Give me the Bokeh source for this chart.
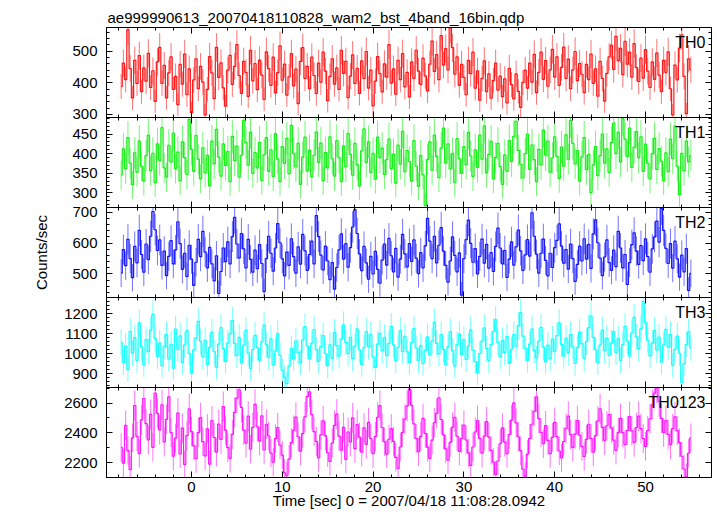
import numpy as np
from bokeh.plotting import figure
from bokeh.models import (Range1d, LinearAxis, SingleIntervalTicker, Label,
                          CustomLabelingPolicy)
from bokeh.layouts import column
from bokeh.embed import file_html
from bokeh.resources import INLINE

FONT = "Liberation Sans"

title_text = "ae999990613_20070418110828_wam2_bst_4band_16bin.qdp"
x_label = "Time [sec] 0 = 2007/04/18 11:08:28.0942"
y_label = "Counts/sec"
panel_names = ["TH0", "TH1", "TH2", "TH3", "TH0123"]

bin_size = 0.25          # seconds per bin
t_first = -7.75          # centre of first bin

th0 = [
    388, 462, 410, 568, 445, 352, 471, 398, 486, 372, 447, 405,
    493, 385, 438, 341, 466, 512, 398, 455, 352, 431, 482, 379,
    420, 331, 458, 396, 491, 362, 444, 305, 409, 476, 381, 452,
    402, 298, 379, 483, 431, 350, 512, 417, 463, 384, 326, 440,
    487, 395, 452, 521, 423, 366, 468, 433, 357, 503, 406, 461,
    378, 472, 424, 347, 498, 445, 392, 481, 368, 432, 517, 408,
    459, 361, 419, 492, 390, 443, 334, 468, 511, 414, 452, 381,
    481, 423, 366, 462, 402, 497, 437, 343, 420, 476, 396, 447,
    379, 503, 430, 468, 353, 421, 488, 398, 446, 366, 469, 414,
    499, 383, 440, 327, 405, 483, 429, 371, 460, 418, 521, 399,
    444, 364, 471, 410, 492, 387, 433, 355, 466, 414, 503, 437,
    395, 478, 422, 374, 459, 532, 436, 489, 410, 549, 456, 508,
    441, 574, 511, 427, 482, 392, 458, 417, 362, 471, 429, 497,
    383, 438, 345, 414, 469, 372, 428, 351, 407, 462, 377, 421,
    356, 412, 336, 446, 394, 349, 428, 373, 322, 401, 440, 383,
    462, 402, 490, 369, 433, 497, 411, 470, 389, 441, 506, 418,
    482, 392, 449, 513, 414, 475, 381, 441, 499, 407, 461, 427,
    369, 458, 410, 491, 398, 444, 358, 468, 414, 342, 430, 482,
    519, 442, 547, 470, 509, 426, 531, 459, 497, 418, 524, 448,
    404, 478, 415, 505, 437, 385, 466, 411, 494, 424, 372, 471,
    433, 498, 381, 298, 456, 409, 510, 552, 420, 302, 476, 441,
]

th1 = [
    345, 412, 362, 441, 376, 321, 402, 353, 432, 368, 330, 395,
    447, 357, 401, 326, 425, 383, 466, 364, 340, 421, 379, 452,
    362, 404, 331, 430, 390, 347, 487, 411, 355, 446, 386, 336,
    415, 351, 396, 318, 432, 374, 462, 391, 343, 425, 370, 405,
    329, 444, 382, 419, 340, 396, 485, 428, 371, 455, 350, 403,
    364, 429, 332, 397, 441, 355, 410, 342, 451, 386, 329, 418,
    375, 439, 349, 472, 401, 366, 426, 322, 391, 442, 356, 409,
    341, 396, 455, 378, 427, 331, 403, 364, 443, 387, 343, 433,
    390, 329, 420, 366, 451, 398, 345, 426, 372, 318, 407, 463,
    378, 430, 352, 401, 335, 442, 390, 414, 347, 385, 437, 362,
    399, 325, 422, 373, 457, 354, 408, 380, 330, 433, 368, 317,
    395, 346, 268, 385, 430, 358, 447, 393, 339, 414, 465, 376,
    425, 361, 401, 326, 438, 387, 350, 418, 372, 454, 394, 342,
    410, 365, 447, 386, 471, 351, 398, 431, 336, 390, 426, 367,
    322, 397, 355, 433, 380, 444, 482, 408, 373, 338, 400, 450,
    360, 422, 385, 329, 411, 372, 460, 396, 432, 353, 389, 443,
    393, 337, 417, 368, 448, 386, 485, 426, 374, 408, 330, 391,
    441, 359, 398, 301, 371, 418, 344, 395, 450, 376, 412, 352,
    428, 478, 400, 455, 379, 489, 437, 393, 465, 365, 416, 456,
    390, 443, 355, 424, 376, 336, 400, 439, 360, 413, 381, 331,
    402, 354, 437, 387, 470, 368, 296, 401, 356, 432, 379, 395,
]

th2 = [
    503, 579, 527, 612, 550, 488, 589, 536, 641, 563, 506, 597,
    546, 622, 702, 643, 576, 610, 528, 574, 495, 557, 608, 533,
    578, 669, 598, 515, 567, 492, 593, 548, 463, 538, 612, 556,
    638, 571, 520, 586, 533, 478, 559, 437, 508, 584, 540, 604,
    533, 621, 683, 597, 552, 631, 581, 520, 612, 547, 506, 577,
    517, 595, 534, 443, 550, 622, 567, 509, 584, 663, 601, 549,
    494, 571, 528, 614, 556, 503, 588, 532, 628, 575, 512, 563,
    606, 533, 689, 621, 561, 513, 590, 542, 482, 537, 451, 521,
    578, 630, 548, 598, 522, 585, 652, 708, 631, 565, 511, 589,
    536, 483, 557, 500, 573, 515, 470, 545, 597, 529, 615, 559,
    507, 583, 490, 548, 628, 565, 523, 598, 541, 610, 551, 501,
    569, 520, 591, 680, 606, 550, 622, 536, 593, 650, 574, 528,
    474, 542, 620, 560, 507, 568, 432, 550, 611, 674, 599, 538,
    582, 500, 557, 613, 535, 596, 519, 569, 508, 589, 648, 584,
    533, 576, 489, 548, 604, 529, 588, 642, 575, 512, 562, 611,
    558, 698, 622, 564, 503, 567, 613, 544, 494, 567, 521, 585,
    609, 662, 590, 535, 579, 516, 597, 550, 476, 531, 590, 542,
    614, 548, 596, 518, 630, 675, 601, 551, 495, 555, 610, 537,
    512, 577, 524, 638, 584, 520, 563, 466, 537, 595, 633, 574,
    531, 592, 543, 614, 556, 506, 581, 620, 671, 603, 712, 641,
    583, 534, 598, 519, 606, 549, 490, 561, 507, 582, 447, 502,
]

th3 = [
    1058, 957, 1039, 921, 1112, 1004, 1081, 968, 1155, 1035, 947, 1071,
    1012, 1118, 1198, 1076, 988, 1054, 941, 1037, 1096, 975, 1048, 929,
    1124, 1022, 1090, 958, 1045, 1117, 1003, 902, 1020, 1079, 1163, 1062,
    985, 1068, 948, 1033, 1109, 1011, 934, 1049, 1131, 1026, 961, 1055,
    1101, 1167, 1052, 991, 1083, 955, 1044, 1118, 1005, 928, 1022, 1093,
    1032, 968, 1061, 1144, 1047, 982, 1075, 944, 1015, 1101, 993, 917,
    884, 852, 939, 1027, 976, 1064, 1008, 957, 1070, 1136, 1040, 975,
    1054, 1122, 1021, 962, 1036, 1092, 1002, 941, 1045, 978, 1107, 1041,
    989, 1074, 1145, 1058, 1001, 1083, 976, 1039, 1125, 1020, 947, 1031,
    1112, 1036, 1096, 985, 932, 1049, 1103, 1015, 1081, 991, 1052, 1138,
    1045, 966, 1033, 1117, 1013, 1088, 1010, 958, 1057, 1126, 1030, 968,
    1041, 952, 1018, 1085, 995, 1064, 1158, 1053, 1001, 1097, 1023, 948,
    1035, 1111, 1016, 939, 1047, 1099, 997, 1072, 972, 1040, 1120, 1019,
    962, 905, 1002, 1064, 1130, 1027, 967, 1046, 1112, 1171, 1058, 986,
    1067, 1006, 1087, 953, 1023, 1097, 1039, 1141, 1206, 1089, 1029, 968,
    1049, 1124, 1016, 979, 1064, 1133, 1034, 960, 1044, 976, 1074, 1013,
    1092, 1155, 1048, 989, 1078, 1006, 1097, 1036, 952, 1031, 1109, 1051,
    977, 1062, 1131, 1189, 1083, 1022, 957, 1044, 1119, 1015, 1079, 993,
    1055, 1112, 1008, 1076, 967, 1046, 1138, 1064, 989, 1105, 1183, 1085,
    1026, 1126, 1262, 1158, 1068, 990, 1054, 1117, 1019, 1084, 959, 1045,
    1123, 1034, 1098, 943, 1023, 1089, 1003, 858, 951, 1048, 1110, 1029,
]

th0123 = [
    2302, 2196, 2451, 2281, 2152, 2367, 2584, 2376, 2261, 2487, 2631, 2462,
    2353, 2524, 2303, 2668, 2532, 2420, 2589, 2339, 2491, 2642, 2402, 2243,
    2365, 2533, 2258, 2432, 2188, 2381, 2562, 2409, 2312, 2226, 2402, 2503,
    2341, 2245, 2427, 2190, 2482, 2369, 2270, 2459, 2356, 2577, 2418, 2301,
    2228, 2390, 2538, 2634, 2690, 2571, 2418, 2331, 2512, 2290, 2437, 2592,
    2441, 2345, 2514, 2285, 2458, 2379, 2264, 2203, 2361, 2436, 2318, 2251,
    2131, 2112, 2224, 2335, 2419, 2506, 2374, 2277, 2395, 2508, 2644, 2676,
    2523, 2409, 2343, 2232, 2386, 2481, 2381, 2266, 2208, 2331, 2451, 2526,
    2378, 2284, 2437, 2222, 2406, 2339, 2501, 2294, 2455, 2372, 2270, 2434,
    2323, 2470, 2361, 2260, 2376, 2505, 2583, 2436, 2341, 2257, 2357, 2428,
    2343, 2235, 2162, 2305, 2404, 2492, 2581, 2695, 2585, 2460, 2362, 2273,
    2376, 2497, 2396, 2304, 2229, 2351, 2468, 2531, 2636, 2490, 2387, 2292,
    2217, 2336, 2438, 2505, 2378, 2276, 2362, 2452, 2352, 2265, 2182, 2305,
    2406, 2483, 2363, 2264, 2378, 2475, 2372, 2283, 2203, 2121, 2211, 2327,
    2433, 2338, 2261, 2389, 2486, 2601, 2467, 2374, 2280, 2156, 2108, 2257,
    2363, 2458, 2545, 2642, 2496, 2403, 2327, 2449, 2349, 2260, 2370, 2470,
    2375, 2278, 2231, 2342, 2430, 2512, 2388, 2302, 2392, 2483, 2384, 2309,
    2241, 2356, 2458, 2363, 2271, 2381, 2480, 2562, 2437, 2350, 2448, 2522,
    2433, 2351, 2283, 2403, 2498, 2401, 2322, 2416, 2509, 2413, 2336, 2436,
    2512, 2429, 2362, 2309, 2416, 2495, 2588, 2667, 2702, 2611, 2497, 2404,
    2483, 2390, 2320, 2429, 2508, 2416, 2334, 2243, 2157, 2103, 2263, 2366,
]

series = [th0, th1, th2, th3, th0123]
colors = ["#ff0000", "#00ee00", "#0000ff", "#00ffff", "#ff00ff"]
y_ranges = [(290, 575), (263, 492), (424, 715), (832, 1282), (2100, 2705)]
y_major = [100, 50, 100, 100, 200]
y_minor = [5, 5, 5, 5, 2]

X0, X1 = -9.361, 57.27
FRAME_H = 90
FRAME_W = 605
LEFT = 106
RIGHT = 4
TOP = 27
BOTTOM = 36
E = 14   # overflow room for tick labels that straddle panel boundaries
px_per_s = FRAME_W / (X1 - X0)

hide_all = CustomLabelingPolicy(code="""
try { for (let i = 0; i < indices.size; i++) { indices.unset(i) } } catch (e) {}
return indices
""")

x_range = Range1d(X0, X1)
figs = []
n = len(series)
for i in range(n):
    vals = np.array(series[i], dtype=float)
    t = t_first + bin_size * np.arange(len(vals))
    err = np.sqrt(vals / bin_size)
    top = i == 0
    bottom = i == n - 1
    y0, y1 = y_ranges[i]
    upp = (y1 - y0) / FRAME_H
    bt = TOP if top else E
    bb = BOTTOM if bottom else E
    p = figure(width=LEFT + FRAME_W + RIGHT, height=FRAME_H + bt + bb,
               x_range=x_range, y_range=Range1d(y0, y1), output_backend="svg",
               toolbar_location=None, x_axis_type=None, y_axis_type=None,
               min_border_left=LEFT, min_border_right=RIGHT,
               min_border_top=bt, min_border_bottom=bb,
               margin=(0 if top else -2 * E, 0, 0, 0))
    p.outline_line_color = "black"
    p.outline_line_width = 1
    p.outline_line_alpha = 1
    p.background_fill_color = "white"
    p.border_fill_color = None

    xt = SingleIntervalTicker(interval=10, num_minor_ticks=5)
    yt = SingleIntervalTicker(interval=y_major[i], num_minor_ticks=y_minor[i])
    for loc, ticker, labeled in [("below", xt, bottom), ("above", xt, False),
                                 ("left", yt, True), ("right", yt, False)]:
        ax = LinearAxis(ticker=ticker)
        ax.axis_line_color = "black"
        ax.major_tick_in = 6
        ax.major_tick_out = 0
        ax.minor_tick_in = 3
        ax.minor_tick_out = 0
        ax.major_tick_line_color = "black"
        ax.minor_tick_line_color = "black"
        ax.major_label_text_font = FONT
        ax.major_label_text_color = "black"
        if labeled:
            ax.major_label_text_font_size = "15px"
            ax.major_label_standoff = 4 if loc == "below" else 9
        else:
            ax.major_label_text_font_size = "0px"
            ax.major_label_standoff = 0
            ax.major_label_policy = hide_all
        if loc == "left" and i == 2:
            ax.axis_label = y_label
            ax.axis_label_standoff = 19
        if loc == "below" and bottom:
            ax.axis_label = x_label
            ax.axis_label_standoff = -3
        ax.axis_label_text_font = FONT
        ax.axis_label_text_font_size = "15px"
        ax.axis_label_text_font_style = "normal"
        ax.axis_label_text_color = "black"
        p.add_layout(ax, loc)

    p.segment(t, vals - err, t, vals + err, line_color=colors[i],
              line_alpha=0.55, line_width=1)
    p.step(t, vals, mode="center", line_color=colors[i], line_alpha=0.9,
           line_width=1.2)

    p.add_layout(Label(x=X1 - 6 / px_per_s, y=y1 - 15 * upp,
                       text=panel_names[i], text_align="right",
                       text_baseline="alphabetic", text_font=FONT,
                       text_font_size="16px", text_color="black"))
    if top:
        p.title.text = title_text
        p.title.text_font = FONT
        p.title.text_font_size = "15px"
        p.title.text_font_style = "normal"
        p.title.text_color = "black"
        p.title.align = "left"
        p.title.offset = 1
        p.title.standoff = 4
    figs.append(p)

layout = column(*figs, spacing=0)
open("out.html", "w").write(file_html(layout, INLINE))
